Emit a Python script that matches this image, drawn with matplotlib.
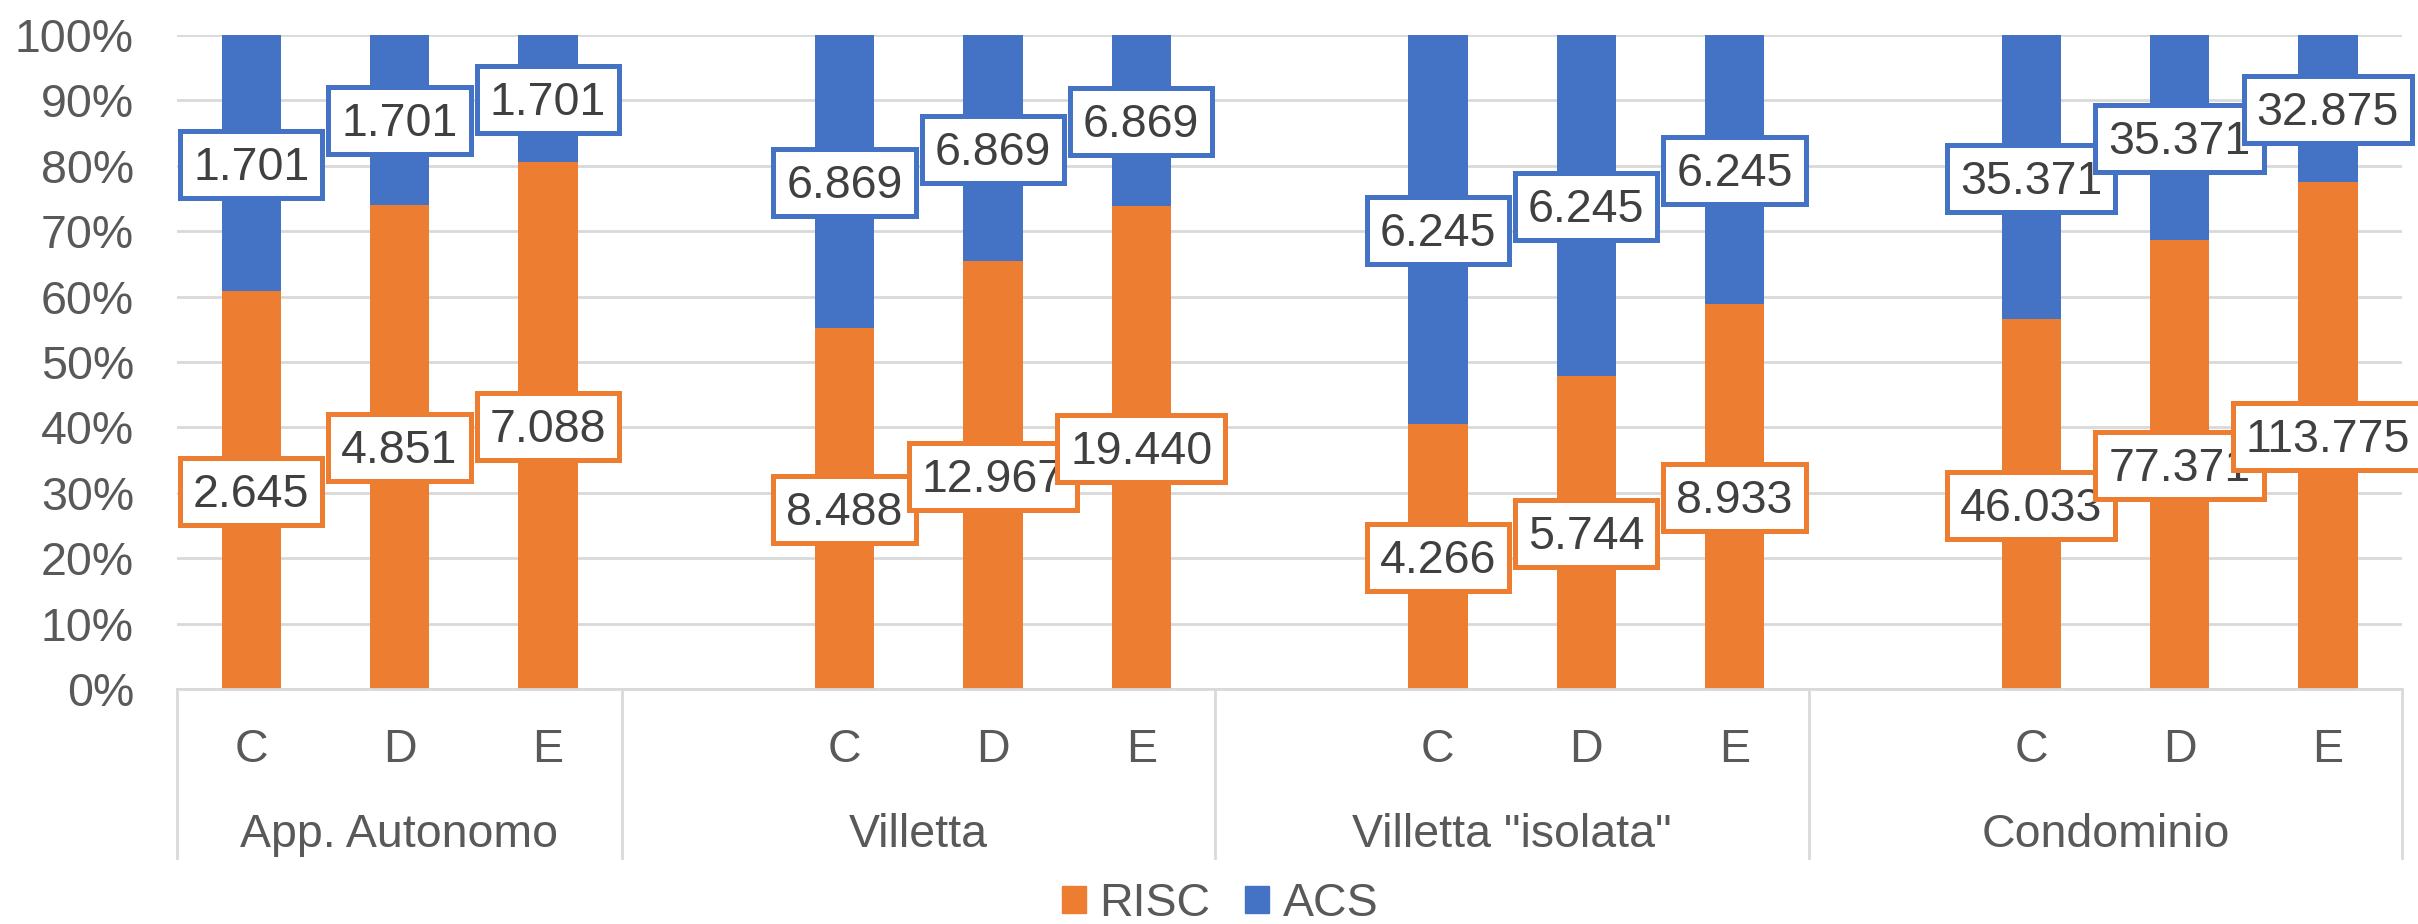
import matplotlib.pyplot as plt
from matplotlib.patches import Patch
from matplotlib.path import Path

groups = ["App. Autonomo", "Villetta", 'Villetta "isolata"', "Condominio"]
classes = ["C", "D", "E"]
risc = [2.645, 4.851, 7.088, 8.488, 12.967, 19.440, 4.266, 5.744, 8.933, 46.033, 77.371, 113.775]
acs = [1.701, 1.701, 1.701, 6.869, 6.869, 6.869, 6.245, 6.245, 6.245, 35.371, 35.371, 32.875]

orange = "#ED7D31"
blue = "#4472C4"
txt = "#595959"
fs = 33.5

plt.rcParams["font.family"] = ["Liberation Sans", "DejaVu Sans"]


def label_box(x0, y0, width, height, mutation_size):
    # wider than tall padding, box centred on the digits
    hp = 0.28 * mutation_size
    hh = 0.72 * mutation_size
    cy = y0 + 0.58 * height
    verts = [(x0 - hp, cy - hh), (x0 + width + hp, cy - hh),
             (x0 + width + hp, cy + hh), (x0 - hp, cy + hh), (x0 - hp, cy - hh)]
    return Path(verts, closed=True)


fig = plt.figure(figsize=(24.18, 9.24), dpi=100)
ax = fig.add_axes([177 / 2418, 1 - 689 / 924, (2402 - 177) / 2418, (689 - 35) / 924])

# slot layout: first group has 3 slots, the others have an empty slot in front
xs = []
spans = []
pos = 0
for g in range(len(groups)):
    start = pos
    if g > 0:
        pos += 1
    for c in classes:
        xs.append(pos)
        pos += 1
    spans.append((start - 0.5, pos - 0.5))

tot = [r + a for r, a in zip(risc, acs)]
pr = [r / t * 100 for r, t in zip(risc, tot)]
pa = [a / t * 100 for a, t in zip(acs, tot)]

w = 0.4
ax.bar(xs, pr, width=w, color=orange, zorder=2)
ax.bar(xs, pa, width=w, bottom=pr, color=blue, zorder=2)

z = 5
for vals, pct, base, col in [(risc, pr, [0] * len(pr), orange), (acs, pa, pr, blue)]:
    for x, v, p, b in zip(xs, vals, pct, base):
        ax.annotate(f"{v:.3f}", (x, b + p / 2), xytext=(0, -3.3), textcoords="offset points",
                    ha="center", va="center", fontsize=fs, color="#404040", zorder=z,
                    bbox=dict(boxstyle=label_box, fc="white", ec=col, lw=3.6))
        z += 1

ax.set_xlim(spans[0][0], spans[-1][1])
ax.set_ylim(0, 100)
ax.set_yticks(range(0, 101, 10))
ax.set_yticklabels([f"{v}%" for v in range(0, 101, 10)])
ax.tick_params(axis="y", length=0, labelsize=fs, labelcolor=txt, pad=31)
ax.set_xticks([])
ax.grid(axis="y", color="#D9D9D9", lw=2, zorder=0)
for s in ["top", "right", "left"]:
    ax.spines[s].set_visible(False)
ax.spines["bottom"].set_color("#D9D9D9")
ax.spines["bottom"].set_linewidth(2)

tr = ax.get_xaxis_transform()
for x, k in zip(xs, classes * len(groups)):
    ax.text(x, -0.093, k, transform=tr, ha="center", va="center", fontsize=fs, color=txt)
for g, (a, b) in zip(groups, spans):
    ax.text((a + b) / 2, -0.223, g, transform=tr, ha="center", va="center", fontsize=fs, color=txt)
edges = [spans[0][0]] + [b for a, b in spans]
for e in edges:
    ax.plot([e, e], [0, -0.258], transform=tr, color="#D9D9D9", lw=2, clip_on=False)

handles = [Patch(color=orange, label="RISC"), Patch(color=blue, label="ACS")]
fig.legend(handles=handles, loc="center", bbox_to_anchor=(1220 / 2418, 1 - 904 / 924),
           ncol=2, frameon=False, fontsize=fs, labelcolor=txt, borderpad=0.2,
           handlelength=0.52, handleheight=0.52, handletextpad=0.28, columnspacing=0.75)

fig.savefig("out.png", dpi=100)
